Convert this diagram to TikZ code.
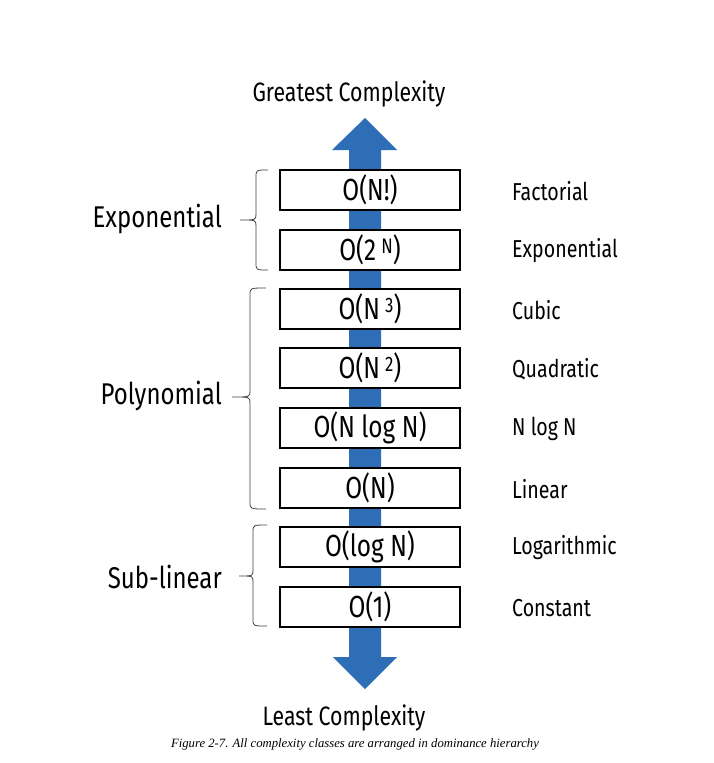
\documentclass[tikz,border=0pt]{standalone}
\usepackage{fontspec}
\setmainfont[FakeStretch=0.8]{Fira Sans}
\newfontfamily\capfont{Liberation Serif}
\definecolor{arrowblue}{RGB}{46,110,182}
\newcommand{\supx}[1]{\,\raisebox{7pt}{\fontsize{21}{21}\selectfont #1}}
\begin{document}
\begin{tikzpicture}[x=1pt,y=-1pt,
  cbox/.style={draw=black, line width=1.8pt, fill=white, minimum width=180pt, minimum height=40pt, inner sep=0pt, font=\fontsize{30.5}{30.5}\selectfont},
  rlab/.style={anchor=west, inner sep=0pt, font=\fontsize{24.5}{24.5}\selectfont},
  glab/.style={anchor=east, inner sep=0pt, font=\fontsize{30}{30}\selectfont},
  ttl/.style={inner sep=0pt, font=\fontsize{26.6}{26.6}\selectfont},
  brc/.style={draw=black!75, line width=0.8pt}
]
\useasboundingbox (0,0) rectangle (713,763);
% big arrow
\fill[arrowblue] (349,150) -- (332,150) -- (365,118) -- (397,150) -- (381,150)
  -- (381,657) -- (397,657) -- (365,689) -- (333,657) -- (349,657) -- cycle;
% boxes
\node[cbox] (b1) at (370,190) {O(N!)};
\node[cbox] (b2) at (370,250) {O(2\supx{N})};
\node[cbox] (b3) at (370,309) {O(N\supx{3})};
\node[cbox] (b4) at (370,368) {O(N\supx{2})};
\node[cbox] (b5) at (370,428) {O(N log N)};
\node[cbox] (b6) at (370,488) {O(N)};
\node[cbox] (b7) at (370,547) {O(log N)};
\node[cbox] (b8) at (370,607) {O(1)};
% right labels
\node[rlab] (r1) at (512,191) {Factorial};
\node[rlab] (r2) at (512,251) {Exponential};
\node[rlab] (r3) at (512,310) {Cubic};
\node[rlab] (r4) at (512,369) {Quadratic};
\node[rlab] (r5) at (512,429) {N log N};
\node[rlab] (r6) at (512,489) {Linear};
\node[rlab] (r7) at (512,548) {Logarithmic};
\node[rlab] (r8) at (512,608) {Constant};
% group labels
\node[glab] (gexp) at (222,219) {Exponential};
\node[glab] (gpoly) at (222,396) {Polynomial};
\node[glab] (gsub) at (222,577) {Sub-linear};
% braces
\draw[brc] (268,170) .. controls (256,170) .. (256,177) -- (256,214)
  .. controls (256,220) .. (240,220) .. controls (256,220) .. (256,226)
  -- (256,263) .. controls (256,270) .. (268,270);
\draw[brc] (266,288) .. controls (250,288) .. (250,295) -- (250,391)
  .. controls (250,397) .. (232,397) .. controls (250,397) .. (250,403)
  -- (250,502) .. controls (250,509) .. (266,509);
\draw[brc] (267,525) .. controls (253,525) .. (253,532) -- (253,570)
  .. controls (253,576) .. (239,576) .. controls (253,576) .. (253,582)
  -- (253,619) .. controls (253,626) .. (267,626);
% titles
\node[ttl] (top) at (349,94) {Greatest Complexity};
\node[ttl] (bot) at (344,718) {Least Complexity};
\node[inner sep=0pt, font=\capfont\itshape\fontsize{12.7}{12.7}\selectfont] (cap) at (355,744) {Figure 2-7. All complexity classes are arranged in dominance hierarchy};
\end{tikzpicture}
\end{document}
